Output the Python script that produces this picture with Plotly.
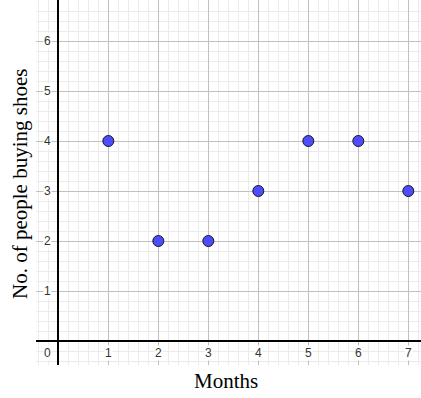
import plotly.graph_objects as go

months = [1, 2, 3, 4, 5, 6, 7]
people = [4, 2, 2, 3, 4, 4, 3]
x_tick_values = [1, 2, 3, 4, 5, 6, 7]
y_tick_values = [1, 2, 3, 4, 5, 6]
x_title = "Months"
y_title = "No. of people buying shoes"

W, H = 421, 398
ml, mr, mt, mb = 36, 0, 0, 33
x_range = [-0.447, 7.254]
y_range = [-0.48, 6.82]

fig = go.Figure()
fig.add_trace(go.Scatter(
    x=months, y=people, mode="markers",
    marker=dict(size=11, color="rgb(77,77,255)",
                line=dict(color="#1a1a1a", width=1)),
    hoverinfo="x+y", showlegend=False,
))

label_font = dict(family="Arial, Liberation Sans, sans-serif", size=12, color="#333333")
annotations = []
for v in x_tick_values:
    annotations.append(dict(x=v, y=-0.23, xref="x", yref="y", text=str(v),
                            showarrow=False, font=label_font, bgcolor="white",
                            borderpad=0, xanchor="center", yanchor="middle"))
for v in y_tick_values:
    annotations.append(dict(x=-0.21, y=v, xref="x", yref="y", text=str(v),
                            showarrow=False, font=label_font, bgcolor="white",
                            borderpad=0, xanchor="center", yanchor="middle"))
annotations.append(dict(x=-0.22, y=-0.23, xref="x", yref="y", text="0",
                        showarrow=False, font=label_font, bgcolor="white",
                        borderpad=0, xanchor="center", yanchor="middle"))

title_font = dict(family="Liberation Serif, Times New Roman, serif", size=21, color="black")
annotations.append(dict(x=(226 - ml) / (W - ml - mr), y=-(381 - (H - mb)) / (H - mt - mb),
                        xref="paper", yref="paper", text=x_title, showarrow=False,
                        font=title_font, xanchor="center", yanchor="middle"))
annotations.append(dict(x=(20 - ml) / (W - ml - mr), y=1 - (184 - mt) / (H - mt - mb),
                        xref="paper", yref="paper", text=y_title, showarrow=False,
                        textangle=-90, font=title_font, xanchor="center", yanchor="middle"))

axis_common = dict(
    showgrid=True, gridcolor="#c0c0c0", gridwidth=1,
    tick0=0, dtick=1,
    minor=dict(dtick=0.2, tick0=0, showgrid=True, gridcolor="#ebebeb", gridwidth=1),
    zeroline=True, zerolinecolor="black", zerolinewidth=1.5,
    showticklabels=False, ticks="", showline=False, fixedrange=True,
)

fig.update_layout(
    width=W, height=H,
    margin=dict(l=ml, r=mr, t=mt, b=mb, pad=0),
    paper_bgcolor="white", plot_bgcolor="white",
    xaxis=dict(range=x_range, **axis_common),
    yaxis=dict(range=y_range, **axis_common),
    annotations=annotations,
)

fig.write_html(
    "out.html",
    config={"displayModeBar": False},
    post_script="document.body.style.margin='0';document.body.style.padding='0';document.body.style.overflow='hidden';",
)
